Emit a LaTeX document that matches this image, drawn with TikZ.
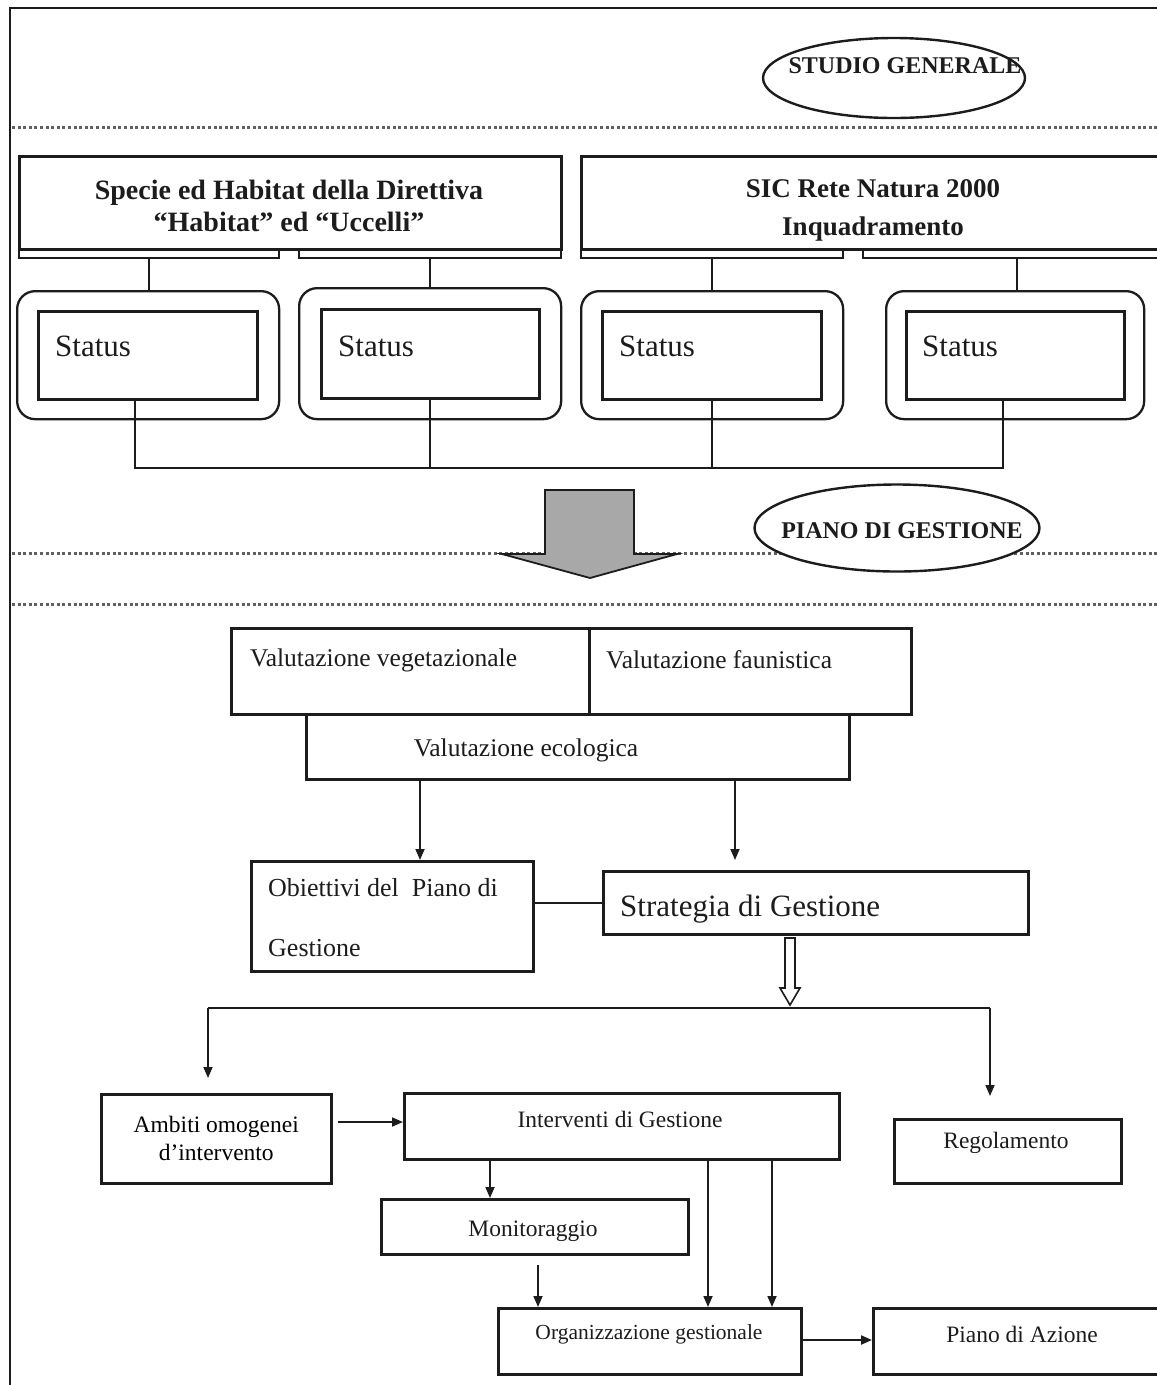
\documentclass[tikz,border=0pt]{standalone}
\usepackage{fontspec}
\setmainfont{Liberation Serif}
\usetikzlibrary{arrows.meta,shapes.geometric}
\definecolor{ink}{HTML}{1C1C1C}
\definecolor{dotgray}{HTML}{606060}
\definecolor{arrowgray}{HTML}{A8A8A8}
\newcommand{\pxsize}[2]{\fontsize{#1pt}{#2pt}\selectfont}
\begin{document}
\begin{tikzpicture}[x=1pt,y=-1pt,
  frame/.style={draw=ink, line width=2.6pt, inner sep=0pt, anchor=north west},
  strip/.style={draw=ink, line width=2pt, inner sep=0pt, anchor=north west, minimum height=9pt},
  roundbox/.style={draw=ink, line width=2.3pt, rounded corners=18pt, inner sep=0pt, anchor=north west},
  oval/.style={draw=ink, line width=2.4pt, ellipse, inner sep=0pt},
  txt/.style={inner sep=0pt, text=ink},
  conn/.style={draw=ink, line width=1.7pt},
  arr/.style={conn, -{Triangle[length=11pt,width=9pt]}},
  dots/.style={draw=dotgray, line width=3pt, dash pattern=on 3pt off 2.6pt},
]
\useasboundingbox (0,0) rectangle (1157,1385);

% page frame
\draw[ink, line width=2.8pt] (10,1390) -- (10,8) -- (1165,8);

% ---------- section headers ----------
\draw[dots] (12,127) -- (1160,127);
\node[oval, minimum width=262pt, minimum height=80pt] (sg) at (894,78) {};
\node[txt, font=\pxsize{24}{28}\bfseries] (sgt) at (905,66) {STUDIO GENERALE};

% ---------- top boxes ----------
\node[frame, minimum width=542pt, minimum height=93pt] (spec) at (18,155) {};
\node[txt, align=center, font=\pxsize{28}{32}\bfseries] (spect) at (289,206)
      {Specie ed Habitat della Direttiva\\“Habitat” ed “Uccelli”};
\node[frame, minimum width=590pt, minimum height=93pt] (sic) at (580,155) {};
\node[txt, align=center, font=\pxsize{27}{38}\bfseries] (sict) at (873,210)
      {SIC Rete Natura 2000\\Inquadramento};

\node[strip, minimum width=260pt] (sa1) at (18,248) {};
\node[strip, minimum width=262pt] (sa2) at (298,248) {};
\node[strip, minimum width=262pt] (sb1) at (580,248) {};
\node[strip, minimum width=308pt] (sb2) at (862,248) {};

% ---------- status boxes ----------
\node[roundbox, minimum width=262pt, minimum height=128pt] (o1) at (16,290) {};
\node[roundbox, minimum width=262pt, minimum height=131pt] (o2) at (298,287) {};
\node[roundbox, minimum width=262pt, minimum height=128pt] (o3) at (580,290) {};
\node[roundbox, minimum width=258pt, minimum height=128pt] (o4) at (885,290) {};

\node[frame, minimum width=219pt, minimum height=88pt] (i1) at (37,310) {};
\node[frame, minimum width=218pt, minimum height=89pt] (i2) at (320,308) {};
\node[frame, minimum width=219pt, minimum height=88pt] (i3) at (601,310) {};
\node[frame, minimum width=218pt, minimum height=88pt] (i4) at (905,310) {};

\foreach \n/\x in {1/55, 2/338, 3/619, 4/922}
  \node[txt, anchor=west, font=\pxsize{31}{36}] (s\n) at (\x,346) {Status};

\draw[conn] (sa1.south) -- (sa1.south |- o1.north);
\draw[conn] (sa2.south) -- (sa2.south |- o2.north);
\draw[conn] (sb1.south) -- (sb1.south |- o3.north);
\draw[conn] (sb2.south) -- (sb2.south |- o4.north);

\coordinate (b1) at (135,468);
\coordinate (b2) at (430,468);
\coordinate (b3) at (712,468);
\coordinate (b4) at (1003,468);
\draw[conn, line width=2pt] (i1.south -| b1) -- (b1) -- (b4) -- (i4.south -| b4);
\draw[conn] (i2.south -| b2) -- (b2);
\draw[conn] (i3.south -| b3) -- (b3);

% ---------- transition ----------
\draw[dots] (12,553) -- (1160,553);
\draw[dots] (12,604) -- (1160,604);
\draw[ink, line width=1.8pt, fill=arrowgray]
  (545,490) -- (634,490) -- (634,554) -- (677,554) -- (590,578)
  -- (502,554) -- (545,554) -- cycle;
\node[oval, fill=white, minimum width=285pt, minimum height=87pt] (pg) at (897,528) {};
\node[txt, font=\pxsize{24}{28}\bfseries] (pgt) at (902,531) {PIANO DI GESTIONE};

% ---------- evaluation ----------
\node[frame, minimum width=358pt, minimum height=86pt] (veg) at (230,627) {};
\node[frame, minimum width=322pt, minimum height=86pt] (fau) at (588,627) {};
\node[txt, anchor=west, font=\pxsize{25.5}{30}] (vegt) at (250,660) {Valutazione vegetazionale};
\node[txt, anchor=west, font=\pxsize{25.5}{30}] (faut) at (606,660) {Valutazione faunistica};

\node[frame, minimum width=543pt, minimum height=65pt] (eco) at (305,713) {};
\node[txt, font=\pxsize{25.5}{30}] (ecot) at (526,750) {Valutazione ecologica};

% ---------- objectives and strategy ----------
\node[frame, line width=2.8pt, minimum width=282pt, minimum height=110pt] (obj) at (250,860) {};
\node[txt, anchor=west, font=\pxsize{26}{30}] (objt1) at (268,888) {Obiettivi del\ \ Piano di};
\node[txt, anchor=west, font=\pxsize{26}{30}] (objt2) at (268,948) {Gestione};

\node[frame, line width=2.8pt, minimum width=425pt, minimum height=63pt] (strat) at (602,870) {};
\node[txt, anchor=west, font=\pxsize{31}{36}] (stratt) at (620,909) {Strategia di Gestione};

\coordinate (e1) at (420,0);
\coordinate (e2) at (735,0);
\coordinate (e2end) at (735,860);
\draw[arr] (eco.south -| e1) -- (obj.north -| e1);
\draw[arr] (eco.south -| e2) -- (e2end);
\draw[conn, line width=2.2pt] (strat.west -| obj.east) -- (strat.west);

% hollow arrow below the strategy
\draw[ink, line width=1.6pt, fill=white]
  (785,938) -- (795,938) -- (795,988) -- (800,988) -- (790,1005)
  -- (780,988) -- (785,988) -- cycle;

% ---------- branch ----------
\coordinate (bl) at (208,1008);
\coordinate (bright) at (990,1008);
\coordinate (blend) at (208,1078);
\coordinate (brend) at (990,1096);
\draw[conn, line width=2pt] (bl) -- (bright);
\draw[arr] (bl) -- (blend);
\draw[arr] (bright) -- (brend);

\node[frame, minimum width=230pt, minimum height=89pt, align=center,
      font=\pxsize{23.5}{28}] (amb) at (100,1093) {Ambiti omogenei\\d’intervento};
\node[frame, line width=2.8pt, minimum width=435pt, minimum height=66pt] (interv) at (403,1092) {};
\node[txt, font=\pxsize{23.5}{28}] (intervt) at (620,1119) {Interventi di Gestione};
\node[frame, minimum width=227pt, minimum height=64pt] (reg) at (893,1118) {};
\node[txt, font=\pxsize{23.5}{28}] (regt) at (1006,1143) {Regolamento};

\node[frame, minimum width=307pt, minimum height=55pt] (mon) at (380,1198) {};
\node[txt, font=\pxsize{23.5}{28}] (mont) at (533,1231) {Monitoraggio};

\node[frame, minimum width=303pt, minimum height=66pt] (org) at (497,1307) {};
\node[txt, font=\pxsize{21.5}{26}] (orgt) at (649,1334) {Organizzazione gestionale};
\node[frame, minimum width=300pt, minimum height=66pt] (pda) at (872,1307) {};
\node[txt, font=\pxsize{23.5}{28}] (pdat) at (1022,1334) {Piano di Azione};

\coordinate (ambout) at (338,1122);
\draw[arr] (ambout) -- (interv.west |- ambout);

\coordinate (xm) at (490,0);
\draw[arr] (interv.south -| xm) -- (mon.north -| xm);
\coordinate (monout) at (538,1265);
\draw[arr] (monout) -- (org.north -| monout);
\coordinate (xa) at (708,0);
\coordinate (xb) at (772,0);
\draw[arr] (interv.south -| xa) -- (org.north -| xa);
\draw[arr] (interv.south -| xb) -- (org.north -| xb);
\coordinate (orgout) at (800,1340);
\draw[arr, line width=2.2pt] (orgout) -- (pda.west |- orgout);

\end{tikzpicture}
\end{document}
